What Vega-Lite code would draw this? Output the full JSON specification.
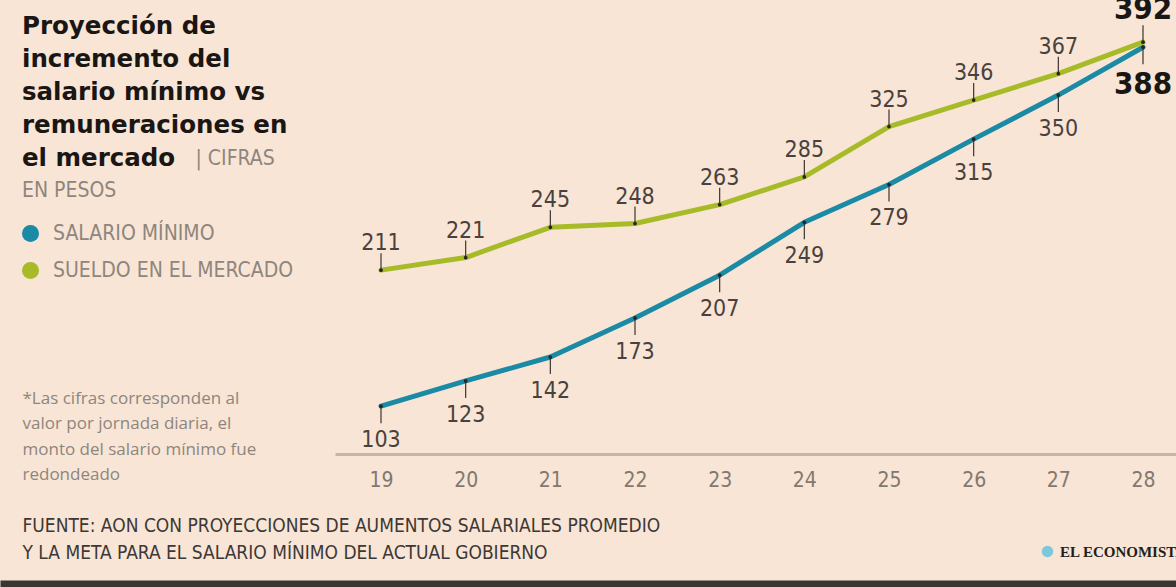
{
  "$schema": "https://vega.github.io/schema/vega-lite/v6.json",
  "width": 1176,
  "height": 454,
  "autosize": {"type": "none"},
  "padding": {"top": 0, "left": 0, "right": 0, "bottom": 133},
  "background": "#f8e5d5",
  "config": {"view": {"stroke": null}, "axis": {"grid": false}},
  "title": {
    "text": ["Proyección de", "incremento del", "salario mínimo vs", "remuneraciones en", "el mercado"],
    "subtitle": "EN PESOS",
    "anchor": "start",
    "frame": "group",
    "orient": "top",
    "offset": 0,
    "baseline": "top",
    "dx": 22,
    "dy": 208,
    "font": "DejaVu Sans",
    "fontSize": 24.5,
    "fontWeight": "bold",
    "color": "#1a1614",
    "lineHeight": 33,
    "subtitleFont": "DejaVu Sans Condensed, sans-serif",
    "subtitleFontSize": 21,
    "subtitleColor": "#8e857e",
    "subtitleLineHeight": 33,
    "subtitlePadding": 9
  },
  "datasets": {
    "salarios": [
      {"anio": 19, "serie": "SALARIO MÍNIMO", "valor": 103},
      {"anio": 20, "serie": "SALARIO MÍNIMO", "valor": 123},
      {"anio": 21, "serie": "SALARIO MÍNIMO", "valor": 142},
      {"anio": 22, "serie": "SALARIO MÍNIMO", "valor": 173},
      {"anio": 23, "serie": "SALARIO MÍNIMO", "valor": 207},
      {"anio": 24, "serie": "SALARIO MÍNIMO", "valor": 249},
      {"anio": 25, "serie": "SALARIO MÍNIMO", "valor": 279},
      {"anio": 26, "serie": "SALARIO MÍNIMO", "valor": 315},
      {"anio": 27, "serie": "SALARIO MÍNIMO", "valor": 350},
      {"anio": 28, "serie": "SALARIO MÍNIMO", "valor": 388},
      {"anio": 19, "serie": "SUELDO EN EL MERCADO", "valor": 211},
      {"anio": 20, "serie": "SUELDO EN EL MERCADO", "valor": 221},
      {"anio": 21, "serie": "SUELDO EN EL MERCADO", "valor": 245},
      {"anio": 22, "serie": "SUELDO EN EL MERCADO", "valor": 248},
      {"anio": 23, "serie": "SUELDO EN EL MERCADO", "valor": 263},
      {"anio": 24, "serie": "SUELDO EN EL MERCADO", "valor": 285},
      {"anio": 25, "serie": "SUELDO EN EL MERCADO", "valor": 325},
      {"anio": 26, "serie": "SUELDO EN EL MERCADO", "valor": 346},
      {"anio": 27, "serie": "SUELDO EN EL MERCADO", "valor": 367},
      {"anio": 28, "serie": "SUELDO EN EL MERCADO", "valor": 392}
    ]
  },
  "data": {"name": "salarios"},
  "layer": [
    {
      "encoding": {
        "x": {
          "field": "anio",
          "type": "quantitative",
          "scale": {"domain": [18.4567, 28.3898], "range": [335, 1176], "nice": false, "zero": false},
          "axis": {
            "orient": "bottom",
            "values": [19, 20, 21, 22, 23, 24, 25, 26, 27, 28],
            "format": "d",
            "labelFont": "DejaVu Sans Condensed, sans-serif",
            "labelFontSize": 21,
            "labelColor": "#81786f",
            "labelPadding": 15,
            "labelFlush": false,
            "labelOverlap": false,
            "ticks": false,
            "domain": true,
            "domainColor": "#c2b5aa",
            "domainWidth": 3,
            "grid": false,
            "title": ["FUENTE: AON CON PROYECCIONES DE AUMENTOS SALARIALES PROMEDIO", "Y LA META PARA EL SALARIO MÍNIMO DEL ACTUAL GOBIERNO"],
            "titleX": 22,
            "titleY": 62,
            "titleAlign": "left",
            "titleAnchor": "start",
            "titleBaseline": "top",
            "titleFont": "DejaVu Sans Condensed, sans-serif",
            "titleFontSize": 19,
            "titleFontWeight": "normal",
            "titleColor": "#3d3835",
            "titleLineHeight": 27
          }
        },
        "y": {
          "field": "valor",
          "type": "quantitative",
          "scale": {"domain": [65, 425.5], "nice": false, "zero": false},
          "axis": {
            "orient": "left",
            "labels": false,
            "ticks": false,
            "domain": false,
            "grid": false,
            "title": ["*Las cifras corresponden al", "valor por jornada diaria, el", "monto del salario mínimo fue", "redondeado"],
            "titleAngle": 0,
            "titleX": 22,
            "titleY": 390,
            "titleAlign": "left",
            "titleAnchor": "start",
            "titleBaseline": "top",
            "titleFont": "Open Sans, Lato, sans-serif",
            "titleFontSize": 17,
            "titleFontWeight": "normal",
            "titleColor": "#8e857e",
            "titleLineHeight": 25.5
          }
        }
      },
      "layer": [
        {
          "mark": {"type": "line", "strokeWidth": 5, "strokeJoin": "round", "strokeCap": "round"},
          "encoding": {
            "color": {
              "field": "serie",
              "type": "nominal",
              "scale": {"domain": ["SALARIO MÍNIMO", "SUELDO EN EL MERCADO"], "range": ["#1a8aa5", "#a7bb28"]},
              "legend": {
                "orient": "none",
                "legendX": 20,
                "legendY": 223,
                "title": null,
                "symbolType": "circle",
                "symbolSize": 290,
                "symbolStrokeWidth": 0,
                "labelFont": "DejaVu Sans Condensed, sans-serif",
                "labelFontSize": 21,
                "labelColor": "#8e857e",
                "labelOffset": 12,
                "rowPadding": 15,
                "padding": 0,
                "labelLimit": 400,
                "encode": {"symbols": {"update": {"fill": {"scale": "color", "field": "value"}, "opacity": {"value": 1}}}}
              }
            }
          }
        },
        {
          "transform": [{"filter": "datum.serie === 'SUELDO EN EL MERCADO'"}],
          "mark": {"type": "rule", "y2Offset": -17, "color": "#3b3430", "strokeWidth": 1.2},
          "encoding": {"y2": {"field": "valor"}}
        },
        {
          "transform": [{"filter": "datum.serie === 'SALARIO MÍNIMO'"}],
          "mark": {"type": "rule", "y2Offset": 17, "color": "#3b3430", "strokeWidth": 1.2},
          "encoding": {"y2": {"field": "valor"}}
        },
        {
          "mark": {"type": "point", "filled": true, "size": 14, "color": "#2a2522", "opacity": 1},
          "encoding": {}
        },
        {
          "transform": [{"filter": "datum.serie === 'SUELDO EN EL MERCADO' && datum.anio < 28"}],
          "mark": {"type": "text", "dy": -20, "baseline": "alphabetic", "align": "center", "font": "DejaVu Sans Condensed, sans-serif", "fontSize": 23, "color": "#4a413c"},
          "encoding": {"text": {"field": "valor", "type": "quantitative"}}
        },
        {
          "transform": [{"filter": "datum.serie === 'SALARIO MÍNIMO' && datum.anio < 28"}],
          "mark": {"type": "text", "dy": 41, "baseline": "alphabetic", "align": "center", "font": "DejaVu Sans Condensed, sans-serif", "fontSize": 23, "color": "#4a413c"},
          "encoding": {"text": {"field": "valor", "type": "quantitative"}}
        },
        {
          "transform": [{"filter": "datum.serie === 'SUELDO EN EL MERCADO' && datum.anio === 28"}],
          "mark": {"type": "text", "dy": -23, "baseline": "alphabetic", "align": "center", "font": "DejaVu Sans Condensed, sans-serif", "fontSize": 31, "fontWeight": "bold", "color": "#1a1614"},
          "encoding": {"text": {"field": "valor", "type": "quantitative"}}
        },
        {
          "transform": [{"filter": "datum.serie === 'SALARIO MÍNIMO' && datum.anio === 28"}],
          "mark": {"type": "text", "dy": 47, "baseline": "alphabetic", "align": "center", "font": "DejaVu Sans Condensed, sans-serif", "fontSize": 31, "fontWeight": "bold", "color": "#1a1614"},
          "encoding": {"text": {"field": "valor", "type": "quantitative"}}
        }
      ]
    },
    {
      "mark": {"type": "point", "opacity": 0, "filled": true, "color": "#7cc8de"},
      "encoding": {
        "x": {
          "field": "anio",
          "type": "quantitative",
          "axis": {
            "orient": "bottom",
            "offset": 130,
            "labels": false,
            "ticks": false,
            "grid": false,
            "domain": true,
            "domainColor": "#3a3633",
            "domainWidth": 8,
            "title": "| CIFRAS",
            "titleX": 195,
            "titleY": -437,
            "titleAlign": "left",
            "titleAnchor": "start",
            "titleBaseline": "top",
            "titleFont": "DejaVu Sans Condensed, sans-serif",
            "titleFontSize": 21,
            "titleFontWeight": "normal",
            "titleColor": "#8e857e"
          }
        },
        "shape": {
          "datum": "EL ECONOMISTA",
          "legend": {
            "orient": "none",
            "legendX": 1040,
            "legendY": 544,
            "title": null,
            "symbolType": "circle",
            "symbolSize": 130,
            "symbolFillColor": "#7cc8de",
            "symbolStrokeColor": "#4f9fc0",
            "symbolStrokeWidth": 1.2,
            "symbolOpacity": 1,
            "labelFont": "Liberation Serif, DejaVu Serif, serif",
            "labelFontSize": 15,
            "labelFontWeight": "bold",
            "labelColor": "#231f1c",
            "labelOffset": 5,
            "labelLimit": 300,
            "padding": 0
          }
        }
      }
    }
  ],
  "resolve": {"scale": {"x": "independent"}, "axis": {"x": "independent"}}
}
